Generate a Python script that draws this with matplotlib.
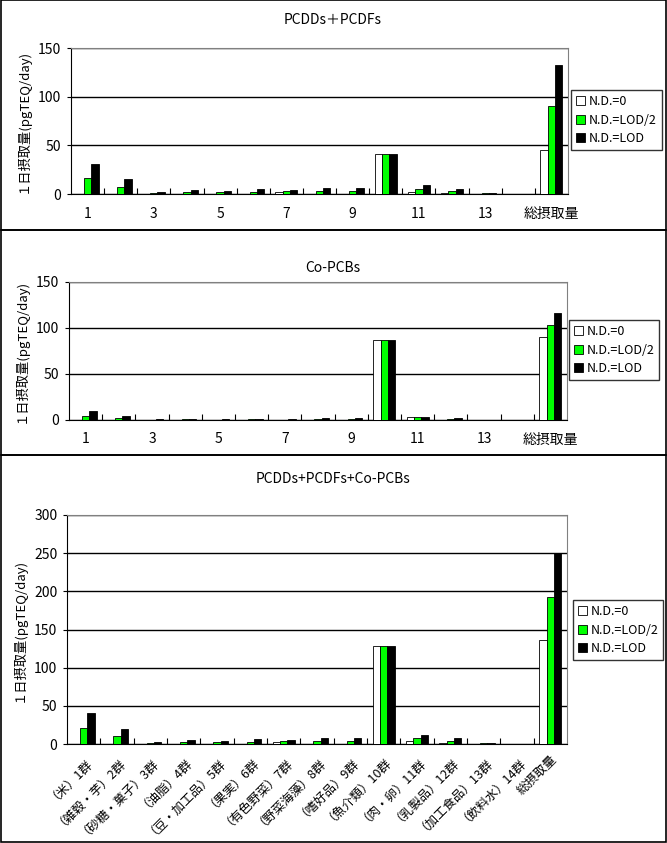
import numpy as np
import matplotlib.pyplot as plt
from matplotlib.patches import Rectangle

plt.rcParams['font.family'] = ['Noto Sans CJK JP', 'DejaVu Sans']

# food groups (1-14) and total intake
groups = ['（米）1群', '（雑穀・芋）2群', '（砂糖・菓子）3群', '（油脂）4群', '（豆・加工品）5群',
          '（果実）6群', '（有色野菜）7群', '（野菜海藻）8群', '（嗜好品）9群', '（魚介類）10群',
          '（肉・卵）11群', '（乳製品）12群', '（加工食品）13群', '（飲料水）14群', '総摂取量']
short_labels = ['1', '', '3', '', '5', '', '7', '', '9', '', '11', '', '13', '', '総摂取量']
series = ['N.D.=0', 'N.D.=LOD/2', 'N.D.=LOD']

# PCDDs + PCDFs
dioxin_nd0 = [0, 0, 0, 0, 0, 0, 2, 0, 0, 41, 2, 1, 0, 0, 45]
dioxin_half = [16, 7, 1, 2, 2, 2, 3, 3, 3, 41, 5, 3, 1, 0, 90]
dioxin_lod = [31, 15, 2, 4, 3, 5, 4, 6, 6, 41, 9, 5, 1, 0, 133]

# Co-PCBs
pcb_nd0 = [0, 0, 0, 0, 0, 0, 0, 0, 0, 87, 3, 0, 0, 0, 90]
pcb_half = [4, 2, 0, 1, 0, 1, 0, 1, 1, 87, 3, 1, 0, 0, 103]
pcb_lod = [10, 4, 1, 1, 1, 1, 1, 2, 2, 87, 3, 2, 0, 0, 116]

# PCDDs + PCDFs + Co-PCBs
total_nd0 = [0, 0, 0, 0, 0, 0, 2, 0, 0, 128, 4, 1, 0, 0, 136]
total_half = [21, 10, 1, 3, 2, 3, 4, 4, 4, 128, 8, 4, 1, 0, 193]
total_lod = [41, 20, 3, 5, 4, 6, 5, 8, 8, 129, 12, 8, 1, 0, 250]

colors = ['white', '#00ff00', 'black']

W, H = 667, 843
fig = plt.figure(figsize=(W / 100, H / 100), dpi=100)


def px_axes(l, t, r, b):
    return fig.add_axes([l / W, 1 - b / H, (r - l) / W, (b - t) / H])


def panel(ax, data, ymax, step, title, title_y, legend_box, long_labels=False):
    x = np.arange(len(groups))
    bw = 0.22
    for i, vals in enumerate(data):
        ax.bar(x + (i - 1) * bw, vals, width=bw, color=colors[i],
               edgecolor='black', linewidth=0.6, label=series[i], zorder=3)
    ax.set_xlim(-0.5, len(groups) - 0.5)
    ax.set_ylim(0, ymax)
    ax.set_yticks(np.arange(0, ymax + 1, step))
    ax.yaxis.grid(True, color='black', linewidth=1.0, zorder=0)
    ax.tick_params(axis='y', labelsize=10, length=3, direction='out', pad=4)
    # boundary ticks pointing in, labels at category centres
    ax.set_xticks(np.arange(0.5, len(groups) - 0.5, 1))
    ax.set_xticklabels([])
    ax.tick_params(axis='x', which='major', direction='in', length=4, color='black')
    ax.set_xticks(x, minor=True)
    if long_labels:
        ax.set_xticklabels(groups, minor=True, rotation=45, ha='right',
                           rotation_mode='anchor', fontsize=9)
        ax.tick_params(axis='x', which='minor', length=0, pad=6)
    else:
        ax.set_xticklabels(short_labels, minor=True, fontsize=10)
        ax.tick_params(axis='x', which='minor', length=0, pad=9)
    for side in ['top', 'right']:
        ax.spines[side].set_color('#808080')
    for side in ['left', 'bottom']:
        ax.spines[side].set_color('black')
    ax.set_ylabel('１日摂取量(pgTEQ/day)', fontsize=9.5, labelpad=6)
    fig.text(333 / W, 1 - title_y / H, title, ha='center', va='center', fontsize=10)
    l, t, r, b = legend_box
    leg = ax.legend(loc='center', bbox_to_anchor=(l / W, 1 - b / H, (r - l) / W, (b - t) / H),
                    bbox_transform=fig.transFigure, fontsize=9, frameon=True, fancybox=False,
                    handlelength=0.7, handleheight=0.7, handletextpad=0.3,
                    borderpad=0.4, labelspacing=0.45, borderaxespad=0)
    leg.get_frame().set_edgecolor('black')
    leg.get_frame().set_linewidth(1.0)


ax1 = px_axes(71, 48, 568, 194)
panel(ax1, [dioxin_nd0, dioxin_half, dioxin_lod], 150, 50, 'PCDDs＋PCDFs', 20, (577, 92, 656, 148))

ax2 = px_axes(69, 282, 567, 420)
panel(ax2, [pcb_nd0, pcb_half, pcb_lod], 150, 50, 'Co-PCBs', 268, (571, 322, 657, 378))

ax3 = px_axes(67, 515, 567, 744)
panel(ax3, [total_nd0, total_half, total_lod], 300, 50, 'PCDDs+PCDFs+Co-PCBs', 479,
      (579, 604, 657, 656), long_labels=True)

# panel frames
for top, bottom in [(0, 230), (230, 455), (455, 842)]:
    fig.patches.append(Rectangle((0.5 / W, 1 - bottom / H), (W - 1.5) / W, (bottom - top) / H,
                                 transform=fig.transFigure, fill=False,
                                 edgecolor='black', linewidth=1.2))

fig.savefig('out.png', dpi=100)
